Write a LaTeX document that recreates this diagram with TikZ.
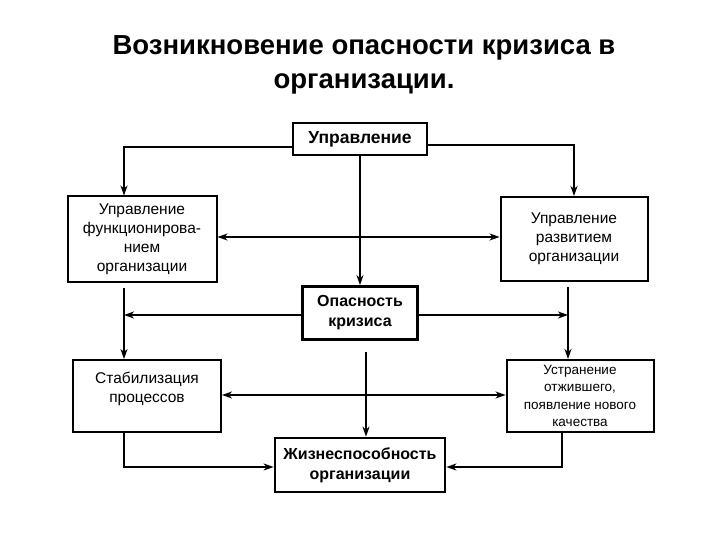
\documentclass[tikz,border=0pt]{standalone}
\usepackage{fontspec}
\setmainfont{Liberation Sans}
\usetikzlibrary{arrows.meta}

\tikzset{
  box/.style={draw,line width=2pt,align=center,inner sep=0pt,
    font=\fontsize{15.5}{19}\selectfont},
  bbox/.style={box,line width=2.8pt,font=\fontsize{16}{20}\selectfont\bfseries},
  link/.style={line width=1.5pt,>={Stealth[length=10pt,width=7pt,inset=3pt]}}
}

\begin{document}
\begin{tikzpicture}
  [x=1pt,y=-1pt,every node/.style={text=black}]
\useasboundingbox[fill=white] (0,0) rectangle (720,540);

\node (title)[align=center,font=\fontsize{27.5}{34}\selectfont\bfseries] at (364,65)
  {Возникновение опасности кризиса в\\организации.};

\node (upr)[bbox,minimum width=134,minimum height=32,font=\fontsize{17.5}{20}\selectfont\bfseries]
  at (360,139) {Управление};
\node (funk)[box,minimum width=149,minimum height=85] at (142,239)
  {Управление\\функционирова-\\нием\\организации};
\node (razv)[box,minimum width=147,minimum height=84] at (574,239)
  {Управление\\развитием\\организации};
\node (opas)[bbox,minimum width=115,minimum height=53] at (360,313) {Опасность\\кризиса};
\node (stab)[box,minimum width=148,minimum height=72,text depth=18pt] at (147,396)
  {Стабилизация\\процессов};
\node (ustr)[box,minimum width=147,minimum height=72,font=\fontsize{13.5}{17.5}\selectfont]
  at (580,396) {Устранение\\отжившего,\\появление нового\\качества};
\node (zhizn)[bbox,minimum width=170,minimum height=54] at (360,465)
  {Жизнеспособность\\организации};

\coordinate (lmid) at (124,315);
\coordinate (rmid) at (568,315);

% from the top
\draw[link,->] (upr.west |- 0,147) -| (funk.north -| 124,0);
\draw[link,->] (upr.east |- 0,145) -| (razv.north -| 574,0);
\draw[link,->] (upr.south) -- (opas.north);
\draw[link,<->] (funk.east |- 0,237) -- (razv.west |- 0,237);

% middle
\draw[link,->,shorten <=5pt] (funk.south -| 124,0) -- (stab.north -| 124,0);
\draw[link,->,shorten <=5pt] (razv.south -| 568,0) -- (ustr.north -| 568,0);
\draw[link,->] (opas.west |- lmid) -- (lmid);
\draw[link,->] (opas.east |- rmid) -- (rmid);
\draw[link,->,shorten <=11pt] (opas.south -| 366,0) -- (zhizn.north -| 366,0);
\draw[link,<->] (stab.east |- 0,395) -- (ustr.west |- 0,395);

% to the bottom
\draw[link,->] (stab.south -| 124,0) |- (zhizn.west |- 0,467);
\draw[link,->] (ustr.south -| 562,0) |- (zhizn.east |- 0,467);

\end{tikzpicture}
\end{document}
